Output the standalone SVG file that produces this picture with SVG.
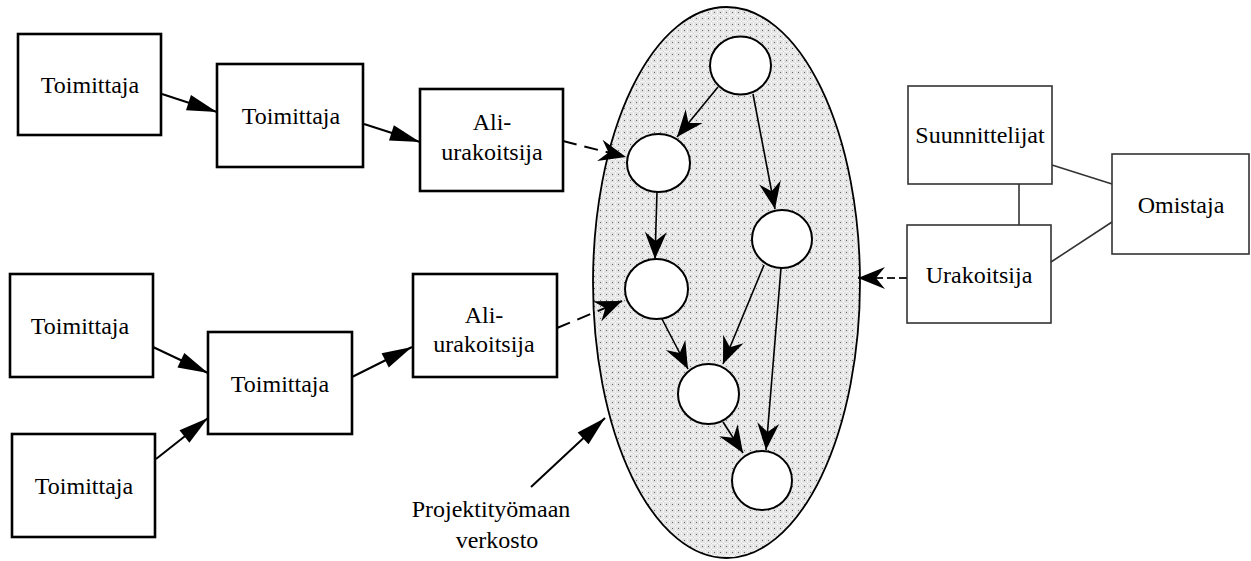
<svg xmlns="http://www.w3.org/2000/svg" width="1251" height="561" viewBox="0 0 1251 561">
  <defs>
    <!-- stippled grey fill of the site network -->
    <pattern id="stipple" width="6" height="6" patternUnits="userSpaceOnUse">
      <rect width="6" height="6" fill="#e3e3e3"/>
      <rect x="0" y="3" width="6" height="1" fill="#f6f6f6"/>
      <rect x="3" y="0" width="1" height="6" fill="#f6f6f6"/>
      <rect x="0" y="0" width="1" height="1" fill="#666"/>
      <rect x="3" y="3" width="1" height="1" fill="#c8c8c8"/>
    </pattern>
    <!-- plain filled triangle head -->
    <marker id="tri" markerUnits="userSpaceOnUse" viewBox="-32 -10 34 20" refX="0" refY="0"
            markerWidth="34" markerHeight="20" orient="auto">
      <path d="M0,0 L-30,-8 L-30,8 Z" fill="#000"/>
    </marker>
    <!-- barbed head with a notched back -->
    <marker id="barb" markerUnits="userSpaceOnUse" viewBox="-30 -13 32 26" refX="0" refY="0"
            markerWidth="32" markerHeight="26" orient="auto">
      <path d="M0,0 L-27,-11 L-18,0 L-27,11 Z" fill="#000"/>
    </marker>
  </defs>
  <style>
    text { font-family: "Liberation Serif", "Times New Roman", serif; font-size: 24px; fill: #000; text-anchor: middle; }
    .box { fill: #fff; stroke: #000; stroke-width: 2.6; }
    .box2 { fill: #fff; stroke: #333; stroke-width: 1.6; }
    .act { fill: #fff; stroke: #000; stroke-width: 2; }
    .line { fill: none; stroke: #000; stroke-width: 2; }
    .thin { fill: none; stroke: #000; stroke-width: 1.6; }
    .dash { fill: none; stroke: #000; stroke-width: 2; stroke-dasharray: 14 8; }
    .dash2 { fill: none; stroke: #222; stroke-width: 2; stroke-dasharray: 8 4; }
    .rel { fill: none; stroke: #333; stroke-width: 1.6; }
  </style>

  <rect width="1251" height="561" fill="#fff"/>

  <!-- site network -->
  <g id="network">
    <ellipse cx="726.5" cy="282.5" rx="133.5" ry="275.5" fill="url(#stipple)" stroke="#000" stroke-width="1.8"/>
  </g>
  <g id="act1"><ellipse class="act" cx="740.5" cy="65.5" rx="30.5" ry="29"/></g>
  <g id="act2"><ellipse class="act" cx="658.5" cy="163" rx="31.5" ry="29"/></g>
  <g id="act3"><ellipse class="act" cx="782" cy="239" rx="30" ry="29"/></g>
  <g id="act4"><ellipse class="act" cx="656.5" cy="289" rx="31.5" ry="30"/></g>
  <g id="act5"><ellipse class="act" cx="708.5" cy="394" rx="30.5" ry="30"/></g>
  <g id="act6"><ellipse class="act" cx="762" cy="480.5" rx="30" ry="29.5"/></g>

  <!-- supply chains -->
  <g id="supplierA">
    <rect class="box" x="18" y="34" width="143" height="101"/>
    <text x="90" y="93">Toimittaja</text>
  </g>
  <g id="supplierB">
    <rect class="box" x="217" y="64" width="146" height="103"/>
    <text x="291" y="124">Toimittaja</text>
  </g>
  <g id="subcontractor1">
    <rect class="box" x="420" y="89" width="143" height="102"/>
    <text x="492" y="130">Ali-</text>
    <text x="492" y="160">urakoitsija</text>
  </g>
  <g id="supplierC">
    <rect class="box" x="10" y="274" width="143" height="103"/>
    <text x="80" y="334">Toimittaja</text>
  </g>
  <g id="supplierD">
    <rect class="box" x="208" y="332" width="144" height="102"/>
    <text x="280" y="392">Toimittaja</text>
  </g>
  <g id="supplierE">
    <rect class="box" x="12" y="434" width="143" height="103"/>
    <text x="84" y="494">Toimittaja</text>
  </g>
  <g id="subcontractor2">
    <rect class="box" x="413" y="274" width="144" height="103"/>
    <text x="484" y="323">Ali-</text>
    <text x="484" y="352">urakoitsija</text>
  </g>

  <!-- client side -->
  <g id="designers">
    <rect class="box2" x="908" y="86" width="144" height="98"/>
    <text x="980" y="143">Suunnittelijat</text>
  </g>
  <g id="contractor">
    <rect class="box2" x="907" y="225" width="144" height="98"/>
    <text x="979" y="283">Urakoitsija</text>
  </g>
  <g id="owner">
    <rect class="box2" x="1112" y="154" width="137" height="100"/>
    <text x="1181" y="213">Omistaja</text>
  </g>

  <!-- label -->
  <g id="label">
    <text x="491" y="517">Projektityömaan</text>
    <text x="497" y="548">verkosto</text>
  </g>

  <!-- connectors -->
  <g id="connectors">
    <line class="line" x1="162" y1="94" x2="217" y2="112" marker-end="url(#tri)"/>
    <line class="line" x1="364" y1="124" x2="420" y2="142" marker-end="url(#tri)"/>
    <line class="line" x1="153" y1="347" x2="208" y2="373" marker-end="url(#tri)"/>
    <line class="line" x1="156" y1="459" x2="208" y2="418" marker-end="url(#tri)"/>
    <line class="line" x1="352" y1="377" x2="412" y2="347" marker-end="url(#tri)"/>
    <line class="line" x1="531" y1="487" x2="605" y2="418" marker-end="url(#tri)"/>

    <line class="dash" x1="563" y1="141" x2="626" y2="157" marker-end="url(#barb)"/>
    <line class="dash" x1="557" y1="328" x2="622" y2="301" marker-end="url(#barb)"/>
    <line class="dash2" x1="907" y1="278" x2="858" y2="278" marker-end="url(#barb)"/>

    <line class="thin" x1="718" y1="87" x2="677" y2="137" marker-end="url(#barb)"/>
    <line class="thin" x1="753" y1="94" x2="775" y2="209" marker-end="url(#barb)"/>
    <line class="thin" x1="657" y1="192" x2="655" y2="259" marker-end="url(#barb)"/>
    <line class="thin" x1="764" y1="265" x2="723" y2="364" marker-end="url(#barb)"/>
    <line class="thin" x1="781" y1="268" x2="766" y2="450" marker-end="url(#barb)"/>
    <line class="thin" x1="662" y1="319" x2="688" y2="369" marker-end="url(#barb)"/>
    <line class="thin" x1="723" y1="422" x2="743" y2="453" marker-end="url(#barb)"/>

    <line class="rel" x1="1019" y1="184" x2="1019" y2="225"/>
    <line class="rel" x1="1052" y1="165" x2="1112" y2="184"/>
    <line class="rel" x1="1051" y1="262" x2="1112" y2="222"/>
  </g>
</svg>
